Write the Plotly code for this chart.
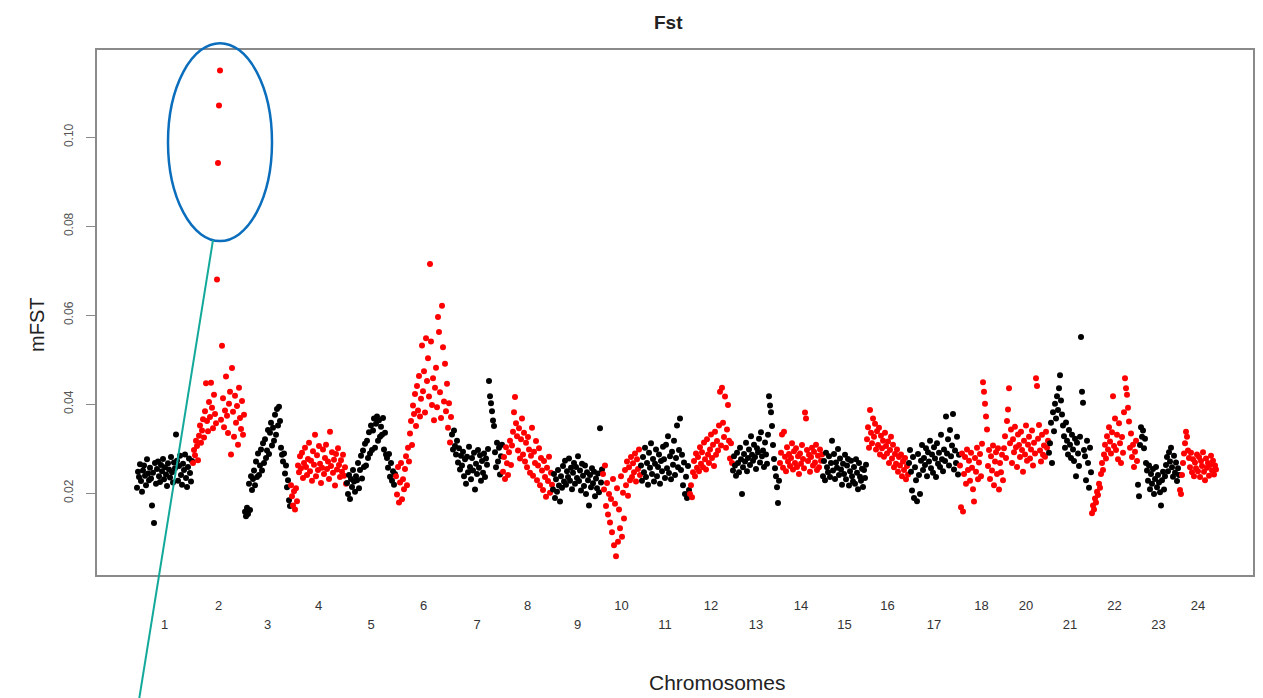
import plotly.graph_objects as go

# mFST values per chromosome (in plotting order)
chr1 = [0.0212,0.0248,0.0236,0.0265,0.0227,0.0203,0.0251,0.0262,0.0239,0.0218,
        0.0276,0.0244,0.0229,0.0257,0.0233,0.0172,0.0246,0.0133,0.0268,0.0221,
        0.0254,0.0271,0.0238,0.0225,0.0263,0.0249,0.0277,0.0231,0.0258,0.0242,
        0.0216,0.0267,0.0253,0.0235,0.0281,0.0247,0.0224,0.0269,0.0256,0.0332,
        0.0273,0.0228,0.0261,0.0284,0.0241,0.0219,0.0266,0.0252,0.0287,0.0234,
        0.0214,0.0259,0.0278,0.0245,0.0226,0.0272]
chr2 = [0.0268,0.0297,0.0285,0.0318,0.0306,0.0274,0.0329,0.0352,0.0313,0.0341,
        0.0366,0.0325,0.0384,0.0447,0.0362,0.0339,0.0405,0.0371,0.0448,0.0392,
        0.0346,0.0421,0.0378,0.0357,0.0680,0.0942,0.1071,0.1150,0.0365,0.0531,
        0.0413,0.0348,0.0386,0.0462,0.0374,0.0335,0.0401,0.0428,0.0287,0.0481,
        0.0383,0.0327,0.0419,0.0358,0.0396,0.0309,0.0437,0.0369,0.0344,0.0407,
        0.0331,0.0376]
chr3 = [0.0158,0.0148,0.0167,0.0153,0.0221,0.0162,0.0238,0.0207,0.0232,0.0251,
        0.0218,0.0271,0.0236,0.0289,0.0241,0.0262,0.0298,0.0251,0.0312,0.0268,
        0.0321,0.0279,0.0296,0.0342,0.0288,0.0336,0.0358,0.0307,0.0347,0.0318,
        0.0376,0.0331,0.0389,0.0352,0.0394,0.0362,
        0.0302,0.0286,0.0271,0.0289,0.0244,0.0262,0.0213,0.0229,0.0184,0.0171]
chr4 = [0.0218,0.0193,0.0172,0.0204,0.0163,0.0211,0.0182,0.0262,0.0247,0.0283,
        0.0256,0.0291,0.0234,0.0268,0.0302,0.0259,0.0241,0.0277,0.0313,0.0249,
        0.0273,0.0228,0.0294,0.0264,0.0331,0.0238,0.0285,0.0252,0.0306,0.0266,
        0.0223,0.0257,0.0298,0.0243,0.0279,0.0309,0.0254,0.0271,0.0232,0.0338,
        0.0261,0.0292,0.0246,0.0275,0.0217,0.0288,0.0253,0.0301,0.0263,0.0236,
        0.0274,0.0248,0.0286,0.0239,0.0258,0.0221]
chr5 = [0.0223,0.0198,0.0241,0.0187,0.0232,0.0214,0.0252,0.0226,0.0203,0.0238,
        0.0229,0.0268,0.0211,0.0252,0.0284,0.0233,0.0296,0.0259,0.0311,0.0262,
        0.0318,0.0279,0.0337,0.0289,0.0352,0.0297,0.0341,0.0368,0.0302,0.0356,
        0.0372,0.0318,0.0364,0.0327,0.0349,0.0331,0.0369,0.0298,0.0336,0.0287,
        0.0279,0.0257,0.0288,0.0237,0.0268,0.0228,0.0249,0.0219,0.0243]
chr6 = [0.0238,0.0197,0.0259,0.0179,0.0224,0.0268,0.0186,0.0231,0.0209,0.0254,
        0.0283,0.0218,0.0302,0.0271,0.0334,0.0362,0.0308,0.0397,0.0378,0.0423,
        0.0351,0.0441,0.0386,0.0463,0.0372,0.0412,0.0532,0.0429,0.0474,0.0381,
        0.0548,0.0452,0.0503,0.0417,0.0715,0.0541,0.0398,0.0458,0.0364,0.0437,
        0.0482,0.0393,0.0596,0.0562,0.0427,0.0369,0.0621,0.0528,0.0406,0.0491,
        0.0384,0.0446,0.0347,0.0402,0.0314,0.0371]
chr7 = [0.0332,0.0298,0.0341,0.0306,0.0287,0.0318,0.0269,0.0301,0.0253,0.0284,
        0.0262,0.0293,0.0238,0.0276,0.0221,0.0282,0.0247,0.0304,0.0259,0.0231,
        0.0279,0.0251,0.0291,0.0208,0.0266,0.0243,0.0297,0.0257,0.0285,0.0228,
        0.0272,0.0246,0.0289,0.0236,0.0278,0.0264,0.0299,
        0.0452,0.0418,0.0402,0.0384,0.0363,0.0351,
        0.0292,0.0258,0.0313,0.0271,0.0302,0.0242,0.0283,0.0309]
chr8 = [0.0248,0.0281,0.0232,0.0303,0.0267,0.0241,0.0292,0.0318,0.0263,0.0307,
        0.0338,0.0382,0.0416,0.0357,0.0328,0.0296,0.0346,0.0278,0.0321,0.0368,
        0.0287,0.0336,0.0271,0.0313,0.0258,0.0326,0.0298,0.0246,0.0284,0.0347,
        0.0239,0.0293,0.0268,0.0317,0.0229,0.0262,0.0301,0.0218,0.0279,0.0251,
        0.0207,0.0272,0.0236,0.0192,0.0257,0.0227,0.0282,0.0201,0.0246,0.0219]
chr9 = [0.0208,0.0243,0.0189,0.0231,0.0203,0.0252,0.0217,0.0181,0.0238,0.0212,
        0.0261,0.0226,0.0273,0.0219,0.0249,0.0236,0.0278,0.0228,0.0257,0.0209,
        0.0246,0.0268,0.0221,0.0259,0.0234,0.0283,0.0227,0.0251,0.0206,0.0266,
        0.0239,0.0216,0.0262,0.0198,0.0247,0.0229,0.0172,0.0241,0.0213,0.0256,
        0.0222,0.0248,0.0193,0.0233,0.0211,0.0244,0.0202,0.0346,0.0224,0.0253]
chr10 = [0.0243,0.0208,0.0262,0.0171,0.0223,0.0152,0.0198,0.0134,0.0187,0.0112,
         0.0232,0.0083,0.0176,0.0058,0.0211,0.0091,0.0163,0.0121,0.0238,0.0102,
         0.0201,0.0143,0.0252,0.0218,0.0271,0.0194,0.0258,0.0229,0.0281,0.0236,
         0.0267,0.0247,0.0289,0.0226,0.0276,0.0254,0.0298,0.0241]
chr11 = [0.0262,0.0228,0.0281,0.0247,0.0302,0.0236,0.0268,0.0219,0.0291,0.0257,
         0.0312,0.0243,0.0277,0.0226,0.0266,0.0298,0.0238,0.0259,0.0287,0.0221,
         0.0272,0.0249,0.0304,0.0276,0.0234,0.0309,0.0256,0.0328,0.0245,0.0283,
         0.0231,0.0293,0.0264,0.0318,0.0241,0.0279,0.0352,0.0258,0.0297,0.0368,
         0.0252,0.0286,0.0218,0.0269,0.0198,0.0237,0.0189,0.0261,0.0207]
chr12 = [0.0198,0.0218,0.0191,0.0247,0.0272,0.0238,0.0289,0.0257,0.0281,0.0249,
         0.0303,0.0266,0.0292,0.0258,0.0314,0.0276,0.0253,0.0321,0.0287,0.0268,
         0.0298,0.0332,0.0279,0.0309,0.0261,0.0338,0.0286,0.0317,0.0296,0.0352,
         0.0428,0.0307,0.0437,0.0358,0.0326,0.0417,0.0302,0.0343,0.0398,0.0318,
         0.0278,0.0312,0.0268]
chr13 = [0.0251,0.0283,0.0262,0.0239,0.0291,0.0268,0.0247,0.0302,0.0276,0.0198,
         0.0258,0.0288,0.0271,0.0313,0.0249,0.0279,0.0298,0.0263,0.0328,0.0286,
         0.0273,0.0309,0.0281,0.0254,0.0301,0.0292,0.0322,0.0269,0.0337,0.0283,
         0.0296,0.0259,0.0314,0.0287,0.0266,0.0331,0.0418,0.0397,0.0382,0.0351,
         0.0308,0.0277,0.0256,0.0238,0.0213,0.0178,0.0228]
chr14 = [0.0268,0.0291,0.0332,0.0257,0.0338,0.0282,0.0249,0.0303,0.0271,0.0288,
         0.0261,0.0279,0.0312,0.0253,0.0294,0.0268,0.0301,0.0259,0.0283,0.0243,
         0.0289,0.0266,0.0308,0.0277,0.0256,0.0381,0.0368,0.0297,0.0272,0.0286,
         0.0248,0.0281,0.0302,0.0262,0.0293,0.0269,0.0309,0.0252,0.0284,0.0258,
         0.0298,0.0273,0.0287]
chr15 = [0.0238,0.0272,0.0229,0.0291,0.0258,0.0247,0.0283,0.0236,0.0268,0.0318,
         0.0251,0.0288,0.0232,0.0269,0.0257,0.0299,0.0241,0.0278,0.0253,0.0219,
         0.0266,0.0243,0.0286,0.0231,0.0262,0.0277,0.0217,0.0249,0.0273,0.0238,
         0.0226,0.0259,0.0221,0.0276,0.0246,0.0209,0.0268,0.0237,0.0228,0.0255,
         0.0214,0.0252,0.0234,0.0264]
chr16 = [0.0321,0.0348,0.0302,0.0387,0.0336,0.0312,0.0368,0.0327,0.0356,0.0298,
         0.0339,0.0308,0.0347,0.0287,0.0329,0.0301,0.0318,0.0282,0.0336,0.0306,
         0.0289,0.0316,0.0268,0.0297,0.0327,0.0278,0.0309,0.0258,0.0288,0.0266,
         0.0298,0.0248,0.0281,0.0262,0.0287,0.0238,0.0271,0.0252,0.0279,0.0231,
         0.0261,0.0242]
chr17 = [0.0268,0.0297,0.0248,0.0206,0.0281,0.0189,0.0258,0.0229,0.0182,0.0288,
         0.0241,0.0198,0.0273,0.0308,0.0252,0.0279,0.0263,0.0301,0.0238,0.0292,
         0.0271,0.0318,0.0256,0.0287,0.0246,0.0303,0.0278,0.0236,0.0312,0.0266,
         0.0291,0.0259,0.0331,0.0276,0.0249,0.0298,0.0272,0.0372,0.0289,0.0321,
         0.0262,0.0342,0.0283,0.0307,0.0378,0.0253,0.0296,0.0268,0.0327,0.0242,
         0.0286]
chr18 = [0.0262,0.0168,0.0289,0.0159,0.0243,0.0281,0.0221,0.0298,0.0252,0.0273,
         0.0228,0.0291,0.0257,0.0209,0.0181,0.0279,0.0248,0.0302,0.0231,0.0269,
         0.0288,0.0238,0.0311,0.0449,0.0428,0.0401,0.0372,0.0343,0.0261,0.0297,
         0.0232,0.0283,0.0251,0.0307,0.0218,0.0271,0.0292,0.0243,0.0301,0.0208,
         0.0268,0.0247,0.0286,0.0229]
chr20 = [0.0301,0.0328,0.0279,0.0362,0.0388,0.0436,0.0312,0.0343,0.0268,0.0321,
         0.0292,0.0349,0.0303,0.0259,0.0332,0.0308,0.0281,0.0338,0.0297,0.0248,
         0.0318,0.0287,0.0352,0.0273,0.0309,0.0327,0.0278,0.0298,0.0341,0.0262,
         0.0313,0.0289,0.0458,0.0441,0.0322,0.0353,0.0296,0.0271,0.0331,0.0286,
         0.0307,0.0282,0.0338,0.0302,0.0318]
chr21 = [0.0291,0.0312,0.0358,0.0268,0.0382,0.0339,0.0401,0.0368,0.0418,0.0387,
         0.0436,0.0465,0.0408,0.0377,0.0352,0.0328,0.0302,0.0359,0.0318,0.0287,
         0.0342,0.0309,0.0279,0.0331,0.0298,0.0272,0.0322,0.0238,0.0313,0.0289,
         0.0261,0.0327,0.0551,0.0428,0.0403,0.0297,0.0283,0.0229,0.0318,0.0268,
         0.0212,0.0302,0.0247]
chr22 = [0.0155,0.0172,0.0163,0.0188,0.0179,0.0203,0.0196,0.0221,0.0212,0.0243,
         0.0268,0.0252,0.0287,0.0309,0.0278,0.0328,0.0298,0.0348,0.0316,0.0289,
         0.0337,0.0418,0.0306,0.0368,0.0297,0.0331,0.0276,0.0357,0.0312,0.0268,
         0.0326,0.0291,0.0382,0.0458,0.0436,0.0421,0.0392,0.0361,0.0302,0.0334,
         0.0281,0.0309,0.0259,0.0293,0.0318,0.0272]
chr23 = [0.0219,0.0193,0.0308,0.0348,0.0327,0.0341,0.0301,0.0322,0.0268,0.0251,
         0.0228,0.0262,0.0209,0.0243,0.0221,0.0254,0.0198,0.0232,0.0259,0.0213,
         0.0241,0.0224,0.0202,0.0172,0.0229,0.0248,0.0208,0.0238,0.0263,0.0281,
         0.0249,0.0292,0.0271,0.0302,0.0258,0.0237,0.0284,0.0246,0.0269,0.0227,
         0.0256,0.0241]
chr24 = [0.0207,0.0198,0.0241,0.0268,0.0289,0.0312,0.0338,0.0327,0.0296,0.0279,
         0.0258,0.0291,0.0247,0.0276,0.0238,0.0269,0.0256,0.0287,0.0249,0.0281,
         0.0236,0.0272,0.0261,0.0292,0.0248,0.0229,0.0278,0.0257,0.0268,0.0239,
         0.0263,0.0284,0.0251,0.0273,0.0242,0.0262,0.0253]

chrom_labels = ["1", "2", "3", "4", "5", "6", "7", "8", "9", "10", "11", "12",
                "13", "14", "15", "16", "17", "18", "20", "21", "22", "23", "24"]
series = [chr1, chr2, chr3, chr4, chr5, chr6, chr7, chr8, chr9, chr10, chr11, chr12,
          chr13, chr14, chr15, chr16, chr17, chr18, chr20, chr21, chr22, chr23, chr24]
y_ticks = [0.02, 0.04, 0.06, 0.08, 0.10]
y_ticklabels = ["0.02", "0.04", "0.06", "0.08", "0.10"]

FONT = "Liberation Sans, Arial, Helvetica, sans-serif"
fig = go.Figure()
even_vals, even_text, odd_vals, odd_text = [], [], [], []
offset = 0
for name, vals in zip(chrom_labels, series):
    xs = list(range(offset, offset + len(vals)))
    even = int(name) % 2 == 0
    fig.add_trace(go.Scatter(
        x=xs, y=vals, mode="markers",
        marker=dict(color="#FF0000" if even else "#000000", size=6, line=dict(width=0)),
        showlegend=False, name="chr" + name))
    centre = offset + (len(vals) - 1) / 2
    if even:
        even_vals.append(centre); even_text.append(name)
    else:
        odd_vals.append(centre); odd_text.append(name)
    offset += len(vals)

X_RANGE = [-40, 1116]

# highlight ellipse around chromosome 2 outliers and a pointer line
c2_start = len(chr1)
fig.add_shape(type="circle", xref="x", yref="paper",
              x0=c2_start - 25, x1=c2_start + 79, y0=0.636, y1=1.013,
              line=dict(color="#0A6EBD", width=2.5), layer="above")
fig.add_shape(type="line", xref="x", yref="paper",
              x0=c2_start + 20, y0=0.638, x1=1, y1=-0.25,
              line=dict(color="#12A89A", width=2), layer="above")

fig.update_layout(
    width=1255, height=690,
    margin=dict(l=89, r=10, t=42, b=123, autoexpand=False),
    paper_bgcolor="white", plot_bgcolor="white",
    font=dict(family=FONT, color="#333333"),
    xaxis=dict(range=X_RANGE, showgrid=False, zeroline=False,
               showline=True, mirror=True, linecolor="#8a8a8a", linewidth=1.5,
               ticks="", tickvals=even_vals, ticktext=even_text,
               tickfont=dict(size=13, color="#333333"), ticklabelstandoff=18),
    xaxis2=dict(range=X_RANGE, overlaying="x", anchor="y", side="bottom",
                showgrid=False, zeroline=False, showline=False,
                ticks="", tickvals=odd_vals, ticktext=odd_text,
                tickfont=dict(size=13, color="#333333"), ticklabelstandoff=40),
    yaxis=dict(range=[0.0016, 0.1196], showgrid=False, zeroline=False,
               showline=True, mirror=True, linecolor="#8a8a8a", linewidth=1.5,
               ticks="outside", ticklen=9, tickwidth=1.2, tickcolor="#8a8a8a",
               tickvals=y_ticks, ticktext=y_ticklabels, tickangle=-90,
               tickfont=dict(size=12, color="#555555"), ticklabelstandoff=8),
    annotations=[
        dict(text="<b>Fst</b>", xref="paper", yref="paper", x=0.494, y=1.053,
             showarrow=False, font=dict(size=19, color="#222222", family=FONT),
             xanchor="center", yanchor="middle"),
        dict(text="mFST", xref="paper", yref="paper", x=-0.052, y=0.476,
             showarrow=False, textangle=-90, font=dict(size=20, color="#222222", family=FONT),
             xanchor="center", yanchor="middle"),
        dict(text="Chromosomes", xref="paper", yref="paper", x=0.537, y=-0.2057,
             showarrow=False, font=dict(size=21, color="#222222", family=FONT),
             xanchor="center", yanchor="middle"),
    ],
)
# invisible anchor trace so the second x axis is drawn
fig.add_trace(go.Scatter(x=[X_RANGE[0]], y=[None], xaxis="x2", yaxis="y",
                         mode="markers", showlegend=False, hoverinfo="skip"))

fig.write_html("out.html")
